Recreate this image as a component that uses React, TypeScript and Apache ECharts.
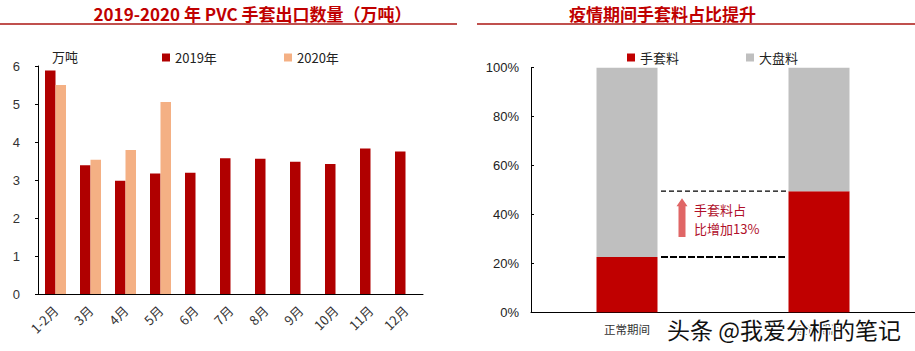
import React, { useEffect, useRef } from "react";
import * as echarts from "echarts";

const months = ["1-2月", "3月", "4月", "5月", "6月", "7月", "8月", "9月", "10月", "11月", "12月"];
const export2019 = [5.88, 3.39, 2.98, 3.17, 3.19, 3.57, 3.56, 3.48, 3.42, 3.83, 3.75];
const export2020 = [5.5, 3.53, 3.79, 5.05, null, null, null, null, null, null, null];
const yTicksLeft = { min: 0, max: 6, interval: 1 };

const periods = ["正常期间", "疫情期间"];
const gloveShare = [22.6, 49.5];
const bulkShare = [77.4, 50.5];
const yTicksRight = { min: 0, max: 100, interval: 20 };

const CJK = '"Noto Sans CJK SC", "Liberation Sans", sans-serif';
const NUM = '"Liberation Sans", Arial, sans-serif';

export default function App() {
  const ref = useRef<HTMLDivElement>(null);
  useEffect(() => {
    if (!ref.current) return;
    const chart = echarts.init(ref.current, undefined, { renderer: "svg" });
    const legendText = { fontSize: 13, color: "#222", fontFamily: CJK };
    const lg = { top: 46, itemWidth: 8, itemHeight: 8, itemGap: 5, icon: "rect", textStyle: legendText };
    chart.setOption({
      animation: false,
      backgroundColor: "#fff",
      textStyle: { fontFamily: CJK },
      grid: [
        { left: 38, top: 66, width: 385, height: 228 },
        { left: 531, top: 67.7, width: 388, height: 244.6 },
      ],
      legend: [
        { ...lg, left: 157, data: ["2019年"] },
        { ...lg, left: 279, data: ["2020年"] },
        { ...lg, left: 622, data: ["手套料"] },
        { ...lg, left: 741, data: ["大盘料"] },
      ],
      xAxis: [
        {
          type: "category",
          gridIndex: 0,
          data: months,
          axisLine: { lineStyle: { color: "#000", width: 1 } },
          axisTick: { inside: true, length: 4, lineStyle: { color: "#000" } },
          axisLabel: { rotate: 45, fontSize: 13, color: "#333", margin: 14, fontFamily: CJK },
        },
        {
          type: "category",
          gridIndex: 1,
          data: periods,
          axisLine: { lineStyle: { color: "#000", width: 1 } },
          axisTick: { inside: true, length: 4, lineStyle: { color: "#000" } },
          axisLabel: { fontSize: 11.5, color: "#333", margin: 11, fontFamily: CJK },
        },
      ],
      yAxis: [
        {
          type: "value",
          gridIndex: 0,
          ...yTicksLeft,
          axisLine: { show: true, lineStyle: { color: "#000", width: 1 } },
          axisTick: { show: true, length: 3, lineStyle: { color: "#000" } },
          splitLine: { show: false },
          axisLabel: { fontSize: 13, color: "#333", margin: 18, fontFamily: NUM },
        },
        {
          type: "value",
          gridIndex: 1,
          ...yTicksRight,
          axisLine: { show: true, lineStyle: { color: "#000", width: 1 } },
          axisTick: { show: true, inside: true, length: 3, lineStyle: { color: "#000" } },
          splitLine: { show: false },
          axisLabel: { fontSize: 13, color: "#222", margin: 12, fontFamily: NUM, formatter: "{value}%" },
        },
      ],
      series: [
        { name: "2019年", type: "bar", xAxisIndex: 0, yAxisIndex: 0, data: export2019, barWidth: 10.5, barGap: "0%", itemStyle: { color: "#B00000" } },
        { name: "2020年", type: "bar", xAxisIndex: 0, yAxisIndex: 0, data: export2020, barWidth: 10.5, barGap: "0%", itemStyle: { color: "#F4B084" } },
        { name: "手套料", type: "bar", xAxisIndex: 1, yAxisIndex: 1, stack: "s", data: gloveShare, barWidth: 61, itemStyle: { color: "#C00000" } },
        { name: "大盘料", type: "bar", xAxisIndex: 1, yAxisIndex: 1, stack: "s", data: bulkShare, barWidth: 61, itemStyle: { color: "#BFBFBF" } },
      ],
    });

    const c0 = chart.convertToPixel({ xAxisIndex: 1, yAxisIndex: 1 }, [0, gloveShare[0]]) as number[];
    const c1 = chart.convertToPixel({ xAxisIndex: 1, yAxisIndex: 1 }, [1, gloveShare[1]]) as number[];
    const lowY = c0[1];
    const upY = c1[1];
    const lx0 = c0[0] + 34;
    const lx1 = c1[0] - 33;
    const ax = c0[0] + 55;
    const aTop = upY + 7;
    const aBot = lowY - 20;

    chart.setOption({
      graphic: [
        {
          type: "text", x: 252.5, y: 13,
          style: { text: "2019-2020 年 PVC 手套出口数量（万吨）", fill: "#C00000", font: `bold 17px ${CJK}`, align: "center", verticalAlign: "middle" },
        },
        { type: "line", shape: { x1: 0, y1: 24, x2: 457, y2: 24 }, style: { stroke: "#C0504D", lineWidth: 2 } },
        {
          type: "text", x: 662.5, y: 13,
          style: { text: "疫情期间手套料占比提升", fill: "#C00000", font: `bold 17px ${CJK}`, align: "center", verticalAlign: "middle" },
        },
        { type: "line", shape: { x1: 477, y1: 24, x2: 915, y2: 24 }, style: { stroke: "#C0504D", lineWidth: 2 } },
        {
          type: "text", x: 52, y: 56,
          style: { text: "万吨", fill: "#222", font: `13px ${CJK}`, align: "left", verticalAlign: "middle" },
        },
        { type: "line", shape: { x1: lx0, y1: upY, x2: lx1, y2: upY }, style: { stroke: "#000", lineWidth: 1.3, lineDash: [5, 3] } },
        { type: "line", shape: { x1: lx0, y1: lowY, x2: lx1, y2: lowY }, style: { stroke: "#000", lineWidth: 2, lineDash: [7, 2] } },
        {
          type: "polygon",
          shape: {
            points: [
              [ax - 3.5, aBot], [ax - 3.5, aTop + 8], [ax - 5.5, aTop + 8], [ax, aTop],
              [ax + 5.5, aTop + 8], [ax + 3.5, aTop + 8], [ax + 3.5, aBot],
            ],
          },
          style: { fill: "#E06666" },
        },
        {
          type: "text", x: c0[0] + 67, y: upY + 18,
          style: { text: "手套料占", fill: "#B0102A", font: `13px ${CJK}`, align: "left", verticalAlign: "middle" },
        },
        {
          type: "text", x: c0[0] + 67, y: upY + 37,
          style: { text: "比增加13%", fill: "#B0102A", font: `13px ${CJK}`, align: "left", verticalAlign: "middle" },
        },
        {
          type: "text", x: 667, y: 329, z: 100,
          style: { text: "头条 @我爱分析的笔记", fill: "#111", stroke: "#fff", lineWidth: 3, font: `23px ${CJK}`, align: "left", verticalAlign: "middle" },
        },
      ],
    });
    return () => chart.dispose();
  }, []);
  return <div ref={ref} style={{ position: "absolute", left: 0, top: 0, width: 915, height: 351 }} />;
}
